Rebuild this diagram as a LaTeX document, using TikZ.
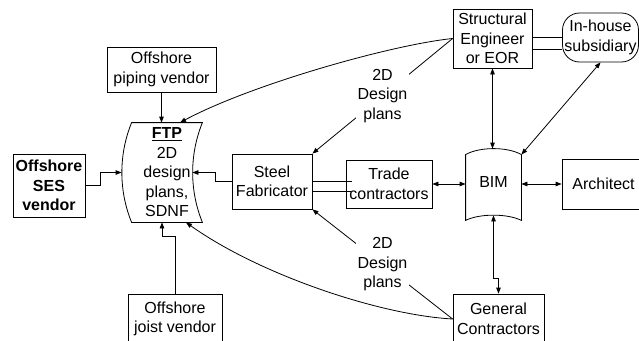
\documentclass[tikz,border=0pt]{standalone}
\usepackage{fontspec}
\setmainfont{Liberation Sans}
\usetikzlibrary{positioning,arrows.meta,calc}

\begin{document}
\begin{tikzpicture}[x=1pt, y=-1pt, line width=0.8pt,
    every node/.style={font=\fontsize{16}{19.5}\selectfont, align=center, inner sep=0pt},
    box/.style={draw, line width=0.8pt},
    lbl/.style={fill=white, inner sep=2pt},
    arr/.style={-{Triangle[length=6pt,width=4.5pt]}},
    darr/.style={{Triangle[length=6pt,width=4.5pt]}-{Triangle[length=6pt,width=4.5pt]}}]
    \useasboundingbox (0,0) rectangle (639,340);

    % vendors and FTP sheet
    \node[box, minimum width=109pt, minimum height=45pt] (piping) at (161.5,69.5) {Offshore\\piping vendor};
    \node[box, minimum width=72pt, minimum height=63pt, font=\fontsize{16}{19.5}\selectfont\bfseries] (ses) at (49,185.5) {Offshore\\SES\\vendor};
    \node[minimum width=70pt, minimum height=99pt] (ftp) at (167,172.5) {\textbf{\underline{FTP}}\\2D\\design\\plans,\\SDNF};
    \draw (ftp.north west) .. controls +(-13,32) and +(-13,-32) .. (ftp.south west) -- (ftp.south east)
          .. controls +(-13,-32) and +(-13,32) .. (ftp.north east) -- cycle;
    \coordinate (ftpL) at ($(ftp.west)+(-10,0)$);
    \coordinate (ftpR) at ($(ftp.east)+(-10,0)$);
    \coordinate (ftpB) at ($(ftp.south)+(-5,0)$);
    \coordinate (ftpTR) at ($(ftp.north)+(13,0)$);
    \coordinate (ftpBR) at ($(ftp.south)+(19,0)$);
    \node[box, minimum width=94pt, minimum height=50pt] (joist) at (175,319) {Offshore\\joist vendor};

    % fabricator, trades, BIM
    \node[box, minimum width=80pt, minimum height=55pt] (steel) at (272,181.5) {Steel\\Fabricator};
    \node[box, minimum width=86pt, minimum height=48pt] (trade) at (389,184) {Trade\\contractors};
    \node[minimum width=55pt, minimum height=66pt] (bim) at (493.5,182) {BIM};
    \draw ([yshift=-6pt]bim.north west) .. controls +(14,-8) and +(-14,-8) .. ([yshift=-6pt]bim.north east)
          -- ([yshift=-5pt]bim.south east) .. controls +(-14,-7) and +(14,-7) .. ([yshift=-5pt]bim.south west) -- cycle;
    \coordinate (bimNE) at ([yshift=-6pt]bim.north east);
    \node[box, minimum width=83pt, minimum height=50pt] (arch) at (603.5,184) {Architect};
    \node[box, minimum width=79pt, minimum height=59pt] (struct) at (492.5,38.5) {Structural\\Engineer\\or EOR};
    \node[box, rounded corners=17pt, minimum width=76pt, minimum height=49pt] (inhouse) at (600.5,37.5) {In-house\\subsidiary};
    \node[box, minimum width=91pt, minimum height=50pt] (general) at (498.5,319) {General\\Contractors};

    % connectors
    \draw[arr] (piping.south) -- (piping.south |- ftp.north);
    \draw[arr] (ses.east) -- ++(15,0) |- (ftpL);
    \draw[arr] (steel.west) -- ++(-16,0) |- (ftpR);
    \draw[arr] (joist.north) -- ++(0,-57) -| (ftpB);
    \draw ([yshift=0.5pt]steel.east) -- ++(40,0);
    \draw ([yshift=-9.5pt]steel.east) -- ++(39,0);
    \draw[darr] (trade.east) -- (trade.east -| bim.west);
    \draw[darr] (bim.east |- arch.west) -- (arch.west);
    \draw[darr] (struct.south) -- (struct.south |- bim.north);
    \draw[darr] (inhouse.south) -- (bimNE);
    \draw[darr] (bim.south) -- ++(0,63) -| (general.north);
    \draw ([yshift=1.5pt]struct.east) -- ([yshift=1.5pt]struct.east -| inhouse.west);
    \draw ([yshift=-10.5pt]struct.east) -- ([yshift=-10.5pt]struct.east -| inhouse.west);
    \draw[arr] (struct.west) -- node[lbl] {2D\\Design\\plans} (steel.north east);
    \draw[arr] (general.west) -- node[lbl] {2D\\Design\\plans} (steel.south east);
    \draw[arr] (struct.west) .. controls (390,45) and (250,85) .. (ftpTR);
    \draw[arr] (general.west) .. controls (380,315) and (260,275) .. (ftpBR);
\end{tikzpicture}
\end{document}
